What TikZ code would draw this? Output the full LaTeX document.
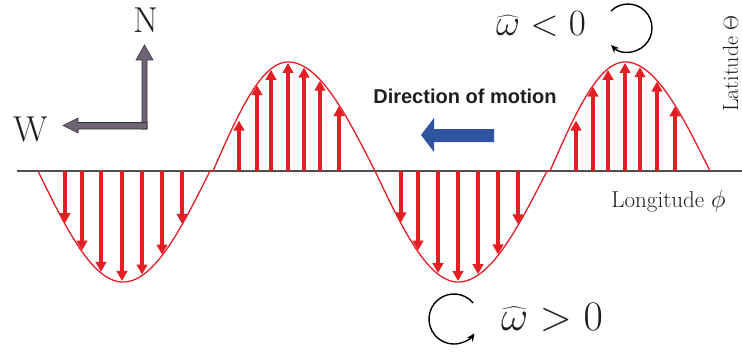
\documentclass[tikz,border=0pt]{standalone}
\usepackage{fontspec}
\newfontfamily\motionfont{Liberation Sans}
\usetikzlibrary{arrows.meta}
\definecolor{wavered}{RGB}{227,30,36}
\definecolor{axisgray}{RGB}{80,80,80}
\definecolor{compassfill}{RGB}{110,100,115}
\definecolor{compassedge}{RGB}{55,48,62}
\definecolor{motionblue}{RGB}{46,84,160}
\definecolor{textdark}{RGB}{30,30,30}
\begin{document}
\begin{tikzpicture}[x=1pt,y=-1pt,
  declare function={q(\t,\z,\e,\A)=171+\A*sin(90*(\t-\z)/(\e-\z));},
  wave/.style={draw=wavered, line width=1.3pt},
  vec/.style={wavered, line width=3.6pt, -{Triangle[length=10pt,width=10.5pt]}},
  compassarrow/.style={fill=compassfill, draw=compassedge, line width=0.6pt},
  motionarrow/.style={fill=motionblue, draw=none},
  spin/.style={black, line width=1.4pt, -{Stealth[length=8pt,width=7pt]}},
  lbl/.style={inner sep=0pt, text=textdark},
  bigmath/.style={lbl, anchor=base, font=\fontsize{24.88}{30}\selectfont, scale=#1, transform shape}]
\useasboundingbox (0,0) rectangle (742,353);
% axis
\coordinate (axL) at (17,171);
\coordinate (axR) at (742,171);
\draw[axisgray, line width=2pt] (axL) -- (axR);
% wave
\draw[wave]
  plot[domain=38:123, samples=40, smooth] (\x,{q(\x,38,123,111)})
  -- plot[domain=123:210, samples=40, smooth] (\x,{q(\x,210,123,111)})
  -- plot[domain=213:288, samples=40, smooth] (\x,{q(\x,213,288,-109)})
  -- plot[domain=288:375, samples=40, smooth] (\x,{q(\x,375,288,-109)})
  -- plot[domain=375:458, samples=40, smooth] (\x,{q(\x,375,458,111)})
  -- plot[domain=458:547, samples=40, smooth] (\x,{q(\x,547,458,111)})
  -- plot[domain=550:625, samples=40, smooth] (\x,{q(\x,550,625,-109)})
  -- plot[domain=625:710, samples=40, smooth] (\x,{q(\x,710,625,-109)});
% red vectors
\foreach \x/\z/\e/\A/\g in {
  65/38/123/111/1, 82/38/123/111/1, 101/38/123/111/1, 122/38/123/111/1,
  142/210/123/111/1, 162/210/123/111/1, 182/210/123/111/1,
  239/213/288/-109/-6, 257/213/288/-109/-1, 271/213/288/-109/-1, 288/213/288/-109/-1,
  304/375/288/-109/-1, 320/375/288/-109/-1, 339/375/288/-109/-1,
  401/375/458/111/1, 418/375/458/111/1, 438/375/458/111/1, 458/375/458/111/1,
  478/547/458/111/1, 498/547/458/111/1, 518/547/458/111/1,
  576/550/625/-109/-6, 593/550/625/-109/-1, 608/550/625/-109/-1, 625/550/625/-109/-1,
  640/710/625/-109/-1, 657/710/625/-109/-1, 675/710/625/-109/-1}{
  \coordinate (b\x) at (\x,171);
  \coordinate (t\x) at (\x,{q(\x,\z,\e,\A)-\g});
  \draw[vec] (b\x) -- (t\x);
}
% compass arrows
\draw[compassarrow] (142,129) -- (142,60) -- (136,60) -- (144.5,45) -- (153,60) -- (147,60) -- (147,129) -- cycle;
\draw[compassarrow] (147,122.5) -- (78,122.5) -- (78,118) -- (63,125.5) -- (78,133) -- (78,129) -- (147,129) -- cycle;
\node[lbl, font=\fontsize{36}{40}\selectfont] (north) at (146,20.5) {N};
\node[lbl, font=\fontsize{36}{40}\selectfont] (west) at (31,129.5) {W};
% direction of motion
\node[lbl, anchor=base, font=\motionfont\bfseries\fontsize{20}{24}\selectfont] (motion) at (465,103) {Direction of motion};
\draw[motionarrow] (421,135) -- (434,118) -- (434,129) -- (494,129) -- (494,142) -- (434,142) -- (434,152) -- cycle;
% axis labels
\node[lbl, anchor=base, font=\fontsize{23}{26}\selectfont] (lon) at (668.5,207) {Longitude $\phi$};
\node[lbl, anchor=base, rotate=90, font=\fontsize{22}{26}\selectfont] (lat) at (738,63.5) {Latitude $\Theta$};
% vorticity labels
\node[bigmath=1.49] (wneg) at (541,36) {$\widehat{\omega} < 0$};
\node[bigmath=1.69] (wpos) at (552,330) {$\widehat{\omega} > 0$};
\coordinate (cneg) at (628,28);
\coordinate (cpos) at (454,319);
\draw[spin] ([shift={(-135:24)}]cneg) arc[start angle=-135, end angle=135, radius=24];
\draw[spin] ([shift={(-40:25)}]cpos) arc[start angle=-40, end angle=-325, radius=25];
\end{tikzpicture}
\end{document}
